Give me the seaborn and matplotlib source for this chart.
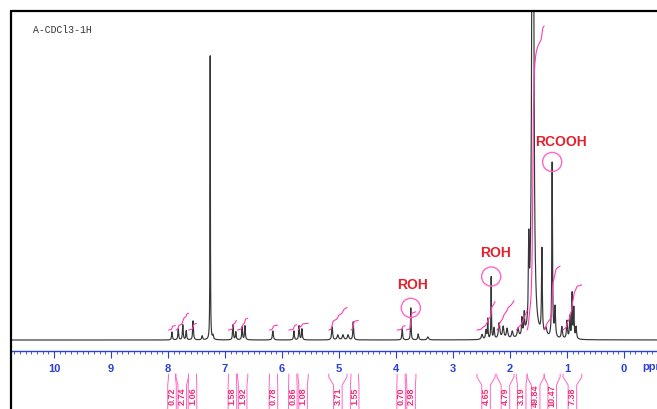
import numpy as np
import pandas as pd
import seaborn as sns
import matplotlib
matplotlib.use("Agg")
import matplotlib.pyplot as plt
from matplotlib.lines import Line2D

sns.set_style("white")
plt.rcParams["font.family"] = ["Liberation Sans", "DejaVu Sans"]

# peaks: position (ppm), height above baseline, half width (ppm)
peak_ppm = [7.93, 7.82, 7.74, 7.68, 7.56, 7.40, 7.26, 7.21,
            6.86, 6.81, 6.70, 6.65, 6.16, 5.79, 5.70, 5.65,
            5.12, 5.02, 4.93, 4.84, 4.75, 3.89, 3.74, 3.61, 3.44,
            2.49, 2.42, 2.39, 2.33, 2.28, 2.19, 2.12, 2.05, 1.96, 1.86,
            1.79, 1.75, 1.67, 1.60, 1.44, 1.37, 1.26, 1.21, 1.09,
            1.00, 0.95, 0.91, 0.88, 0.84]
peak_height = [8, 11, 15, 9, 19, 4, 284, 4,
               15, 8, 13, 14, 9, 9, 14, 11,
               13, 5, 5, 5, 18, 11, 32, 6, 3,
               5, 9, 20, 62, 11, 16, 12, 10, 7, 9,
               17, 20, 76, 1200, 85, 8, 175, 30, 12,
               18, 22, 45, 30, 12]
peak_hw = [0.008, 0.008, 0.008, 0.008, 0.008, 0.01, 0.004, 0.01,
           0.008, 0.008, 0.008, 0.008, 0.01, 0.008, 0.008, 0.008,
           0.01, 0.015, 0.015, 0.015, 0.008, 0.008, 0.006, 0.01, 0.015,
           0.015, 0.01, 0.006, 0.005, 0.01, 0.015, 0.015, 0.015, 0.015, 0.015,
           0.008, 0.008, 0.008, 0.012, 0.008, 0.02, 0.007, 0.01, 0.012,
           0.01, 0.008, 0.007, 0.007, 0.01]

# integrals: range (ppm) and value
int_start = [7.99, 7.86, 7.64, 6.94, 6.78, 6.22, 5.88, 5.72, 5.18, 4.79,
             3.98, 3.82, 2.58, 2.23, 1.89, 1.70, 1.40, 1.07]
int_end = [7.87, 7.64, 7.50, 6.80, 6.60, 6.08, 5.74, 5.54, 4.86, 4.66,
           3.84, 3.65, 2.26, 1.93, 1.70, 1.40, 1.12, 0.74]
int_value = [0.72, 2.74, 1.06, 1.58, 1.92, 0.78, 0.86, 1.08, 3.71, 1.55,
             0.70, 2.98, 4.65, 4.79, 3.19, 49.84, 10.47, 7.38]

note_text = ["ROH", "ROH", "RCOOH"]
note_ppm = [3.74, 2.33, 1.26]

blue = "#2a3fd8"
pink = "#ff66c4"
magenta = "#ff3cb4"
red = "#e4202c"

ppm = np.linspace(-0.6, 10.8, 12000)
spec = np.zeros_like(ppm)
for c, h, w in zip(peak_ppm, peak_height, peak_hw):
    spec += h / (1 + ((ppm - c) / w) ** 2)
df = pd.DataFrame({"ppm": ppm, "intensity": spec})

fig = plt.figure(figsize=(6.57, 4.10), dpi=100)
ax = fig.add_axes([12/657, 58/410, 645/657, 340/410])
ax2 = fig.add_axes([12/657, 0, 645/657, 58/410])

sns.lineplot(data=df, x="ppm", y="intensity", ax=ax, color="#363636",
             linewidth=0.85, estimator=None, sort=False)

# integral curves
for s, e, v in zip(int_start, int_end, int_value):
    m = (ppm <= s) & (ppm >= e)
    seg_x = ppm[m][::-1]
    cum = np.cumsum(spec[m][::-1])
    ax.plot(seg_x, 10 + 6.1 * v * cum / cum[-1], color=magenta, lw=0.8)

# circled peaks and labels
note_h = [spec[np.abs(ppm - p).argmin()] for p in note_ppm]
ax.scatter(note_ppm, note_h, s=190, facecolors="none", edgecolors=pink, linewidths=1, zorder=5)
offs = [(1, 17), (3, 18), (6, 15)]
for t, p, h, o in zip(note_text, note_ppm, note_h, offs):
    ax.annotate(t, (p, h), xytext=o, textcoords="offset points", ha="center", va="center",
                fontsize=10, fontweight="bold", color=red)

ax.set_xlim(10.737, -0.579)
ax.set_ylim(-11, 329)
ax.set_yticks([])
ax.set_xticks(range(0, 11))
ax.set_xticks(np.arange(-0.5, 10.75, 0.1), minor=True)
ax.tick_params(axis="x", which="major", length=5, width=0.8, colors=blue, labelsize=8, pad=4, bottom=True)
ax.tick_params(axis="x", which="minor", length=2.5, width=0.6, colors=blue, bottom=True)
for lbl in ax.get_xticklabels():
    lbl.set_fontweight("bold")
ax.set_xlabel("")
ax.set_ylabel("")
for side in ["top", "left", "right"]:
    ax.spines[side].set_visible(False)
ax.spines["bottom"].set_color(blue)
ax.spines["bottom"].set_linewidth(1)
ax.patch.set_alpha(0)

# integral brackets and values below the axis
ax2.set_xlim(10.737, -0.579)
ax2.set_ylim(410, 352)
ax2.axis("off")
bw = 0.075
for s, e, v in zip(int_start, int_end, int_value):
    c = (s + e) / 2
    ax2.plot([s, s, c + bw, c + bw], [375, 378, 386, 412], color=pink, lw=0.7, clip_on=False)
    ax2.plot([e, e, c - bw, c - bw], [375, 378, 386, 412], color=pink, lw=0.7, clip_on=False)
    ax2.text(c, 396, f"{v:.2f}", rotation=90, ha="center", va="center",
             fontsize=6.5, fontweight="bold", color="#f03070")

fig.text(642/657, 1 - 367/410, "ppm", color=blue, fontsize=8, fontweight="bold", va="center", ha="left")
fig.text(33/657, 1 - 30/410, "A-CDCl3-1H", family="Liberation Mono", fontsize=7, color="#333333", va="center")

# outer frame
fig.add_artist(Line2D([11/657, 1], [1 - 12/410, 1 - 12/410], color="black", lw=1.6))
fig.add_artist(Line2D([11/657, 11/657], [0, 1 - 12/410], color="black", lw=1.6))

fig.savefig("out.png", dpi=100)
